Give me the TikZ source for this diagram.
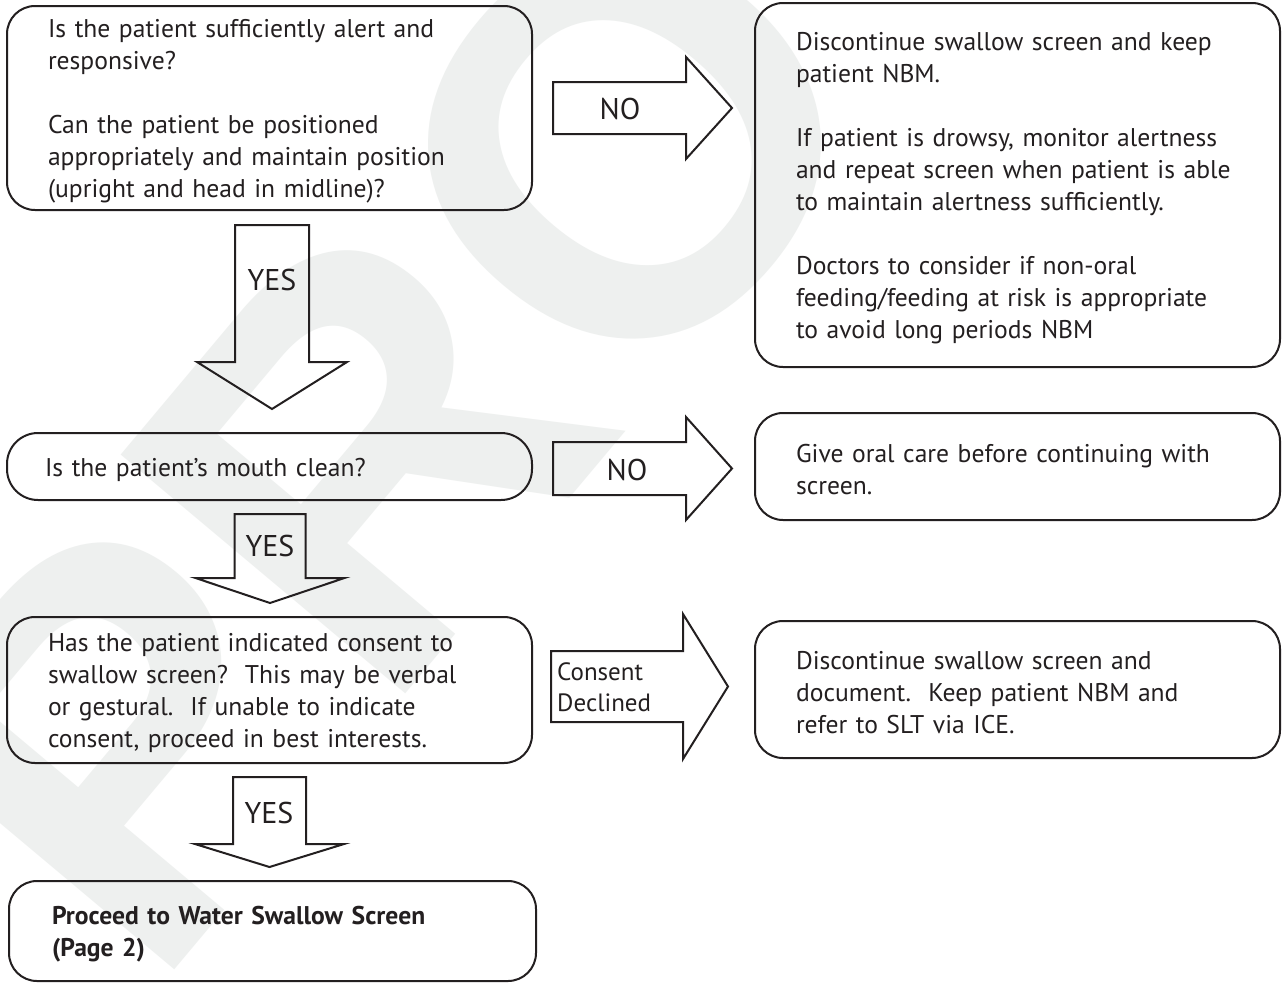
\documentclass[tikz,border=0pt]{standalone}
\usepackage{fontspec}
\setmainfont{PT Sans}
\newfontfamily\wmfont{Liberation Sans}
\usetikzlibrary{calc}
\definecolor{wm}{RGB}{238,240,239}
\definecolor{ink}{RGB}{35,31,32}
\newcommand\topstrut{\rule{0pt}{25pt}}
\newcommand\rblock[5]{\draw[blk] ($(#1)+(0,-#4)$) -- ($(#1)+(#2,-#4)$) -- ($(#1)+(#2,-#5)$) -- ($(#1)+(#2+#3,0)$) -- ($(#1)+(#2,#5)$) -- ($(#1)+(#2,#4)$) -- ($(#1)+(0,#4)$) -- cycle;}
\newcommand\dblock[5]{\draw[blk] ($(#1)+(-#4,0)$) -- ($(#1)+(-#4,#2)$) -- ($(#1)+(-#5,#2)$) -- ($(#1)+(0,#2+#3)$) -- ($(#1)+(#5,#2)$) -- ($(#1)+(#4,#2)$) -- ($(#1)+(#4,0)$) -- cycle;}
\begin{document}
\begin{tikzpicture}[x=1pt,y=-1pt,
  box/.style={draw=ink, line width=2pt, rounded corners=28pt, align=left,
    inner xsep=41pt, inner ysep=0pt, text width=443pt, minimum width=525pt,
    text=ink, font=\fontsize{25.6}{32}\selectfont},
  blk/.style={draw=ink, line width=2pt, line join=miter},
  lbl/.style={text=ink, inner sep=0pt, font=\fontsize{30}{32}\selectfont},
]
\useasboundingbox (0,0) rectangle (1282,983);
\fill[white] (0,0) rectangle (1282,983);
% watermark
\node[text=wm, rotate=50, inner sep=0pt, font=\wmfont\bfseries\fontsize{540}{540}\selectfont] (wmk) at (385,430) {PRO};
% boxes
\node[box, minimum height=204pt] (q1) at (269.5,108) {\topstrut Is the patient sufficiently alert and\\responsive?\\[32pt]Can the patient be positioned\\appropriately and maintain position\\(upright and head in midline)?};
\node[box, minimum height=364pt] (r1) at (1017.5,185) {\topstrut Discontinue swallow screen and keep\\patient NBM.\\[32pt]If patient is drowsy, monitor alertness\\and repeat screen when patient is able\\to maintain alertness sufficiently.\\[32pt]Doctors to consider if non-oral\\feeding/feeding at risk is appropriate\\to avoid long periods NBM};
\node[box, minimum height=67pt, rounded corners=31pt, inner xsep=38pt, text width=449pt] (q2) at (269.5,466.5) {\topstrut Is the patient’s mouth clean?};
\node[box, minimum height=107pt] (r2) at (1017.5,466.5) {\topstrut Give oral care before continuing with\\screen.};
\node[box, minimum height=146pt] (q3) at (269.5,690) {\topstrut Has the patient indicated consent to\\swallow screen?\ \ This may be verbal\\or gestural.\ \ If unable to indicate\\consent, proceed in best interests.};
\node[box, minimum height=137pt] (r3) at (1017.5,689.5) {\topstrut Discontinue swallow screen and\\document.\ \ Keep patient NBM and\\refer to SLT via ICE.};
\node[box, minimum height=100pt, minimum width=527pt, inner xsep=43pt, text width=441pt, font=\bfseries\fontsize{25.6}{32}\selectfont] (q4) at (272.5,931) {\topstrut Proceed to Water Swallow Screen\\(Page 2)};
% block arrows
\coordinate (n1) at (553,108);
\coordinate (n2) at (553,468.5);
\coordinate (c1) at (551,686.5);
\coordinate (y1) at (272,225);
\coordinate (y2) at (270,514);
\coordinate (y3) at (269.5,777);
\rblock{n1}{133}{46}{26}{51}
\rblock{n2}{133}{46}{26.5}{51.5}
\rblock{c1}{132}{45}{35.5}{72.5}
\dblock{y1}{137}{47}{37}{75}
\dblock{y2}{64}{25}{35.5}{74.5}
\dblock{y3}{67}{23}{36.5}{74.5}
\node[lbl] (tno1) at (620,109) {NO};
\node[lbl] (tno2) at (627,470) {NO};
\node[lbl, align=left, anchor=west, font=\fontsize{25}{31}\selectfont] (tcd) at (557,687) {Consent\\Declined};
\node[lbl] (tyes1) at (272,280) {YES};
\node[lbl] (tyes2) at (270,546) {YES};
\node[lbl] (tyes3) at (269,813) {YES};
\end{tikzpicture}
\end{document}
